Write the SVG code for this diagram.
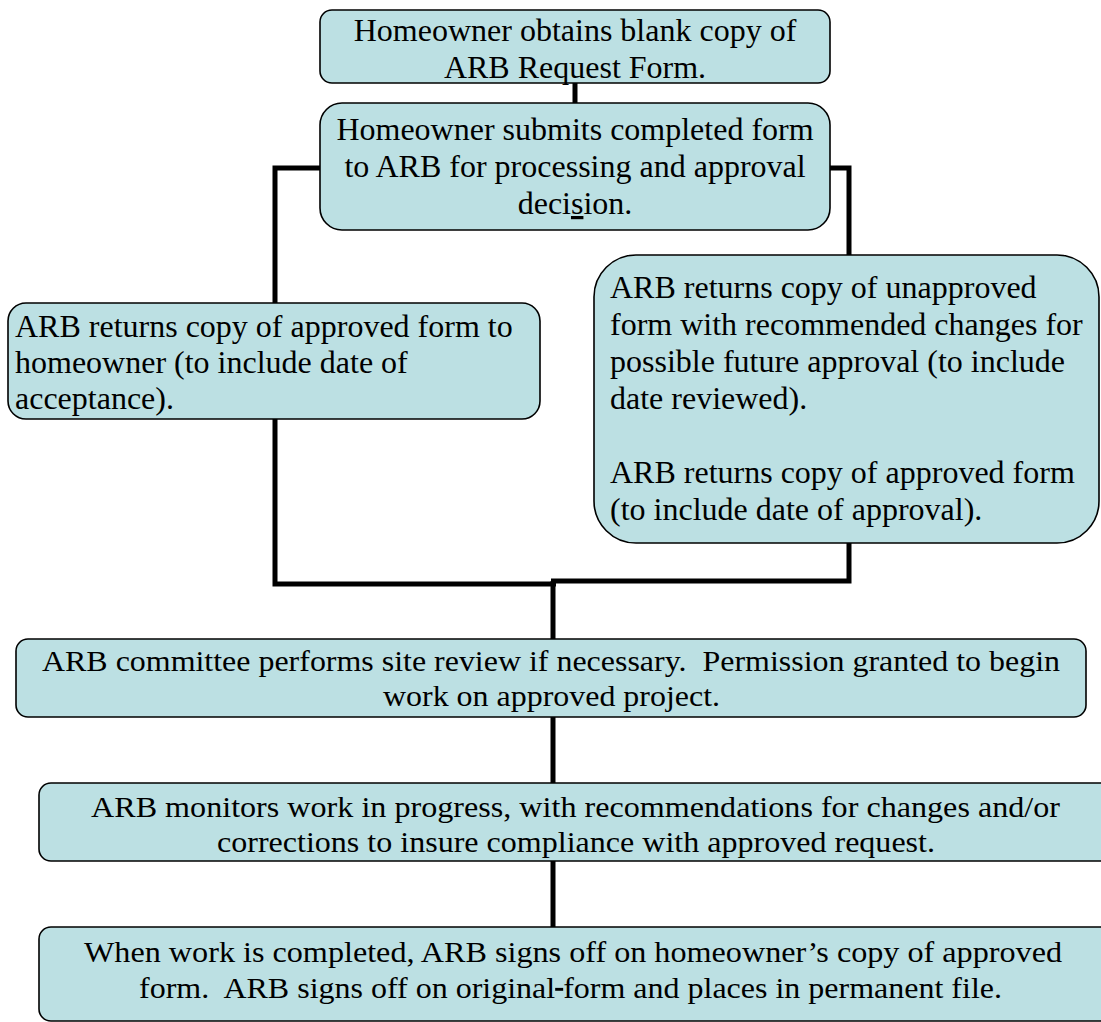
<svg xmlns="http://www.w3.org/2000/svg" width="1101" height="1022" viewBox="0 0 1101 1022">
<style>
.box{fill:#bce0e3;stroke:#000;stroke-width:1.6}
.conn{fill:none;stroke:#000;stroke-width:5;stroke-linejoin:miter;stroke-linecap:butt}
.t{font-family:"Liberation Serif","Times New Roman",serif;font-size:32px;fill:#000}
.c{text-anchor:middle}
.n{font-family:"Liberation Serif","Times New Roman",serif;font-size:29px;fill:#000}
</style>
<rect width="1101" height="1022" fill="#fff"/>
<g id="connectors">
<path class="conn" d="M575,83 V103"/>
<path class="conn" d="M320,168 H275 V303"/>
<path class="conn" d="M830,168 H849 V255"/>
<path class="conn" d="M275,419 V584 H556"/>
<path class="conn" d="M849,543 V581 H551"/>
<path class="conn" d="M553,581 V639"/>
<path class="conn" d="M553,717 V783"/>
<path class="conn" d="M553,861 V927"/>
</g>
<g id="node1">
<rect class="box" x="320" y="10" width="510" height="73" rx="12"/>
<text class="t c" x="575" y="41">Homeowner obtains blank copy of</text>
<text class="t c" x="575" y="78">ARB Request Form.</text>
</g>
<g id="node2">
<rect class="box" x="320" y="103" width="510" height="127" rx="22"/>
<text class="t c" x="575" y="140">Homeowner submits completed form</text>
<text class="t c" x="575" y="177">to ARB for processing and approval</text>
<text class="t c" x="575" y="214">deci<tspan text-decoration="underline">s</tspan>ion.</text>
</g>
<g id="node3">
<rect class="box" x="8" y="303" width="532" height="116" rx="18"/>
<text class="t" x="15" y="337">ARB returns copy of approved form to</text>
<text class="t" x="15" y="373">homeowner (to include date of</text>
<text class="t" x="15" y="409">acceptance).</text>
</g>
<g id="node4">
<rect class="box" x="594" y="255" width="505" height="288" rx="42"/>
<text class="t" x="610" y="298">ARB returns copy of unapproved</text>
<text class="t" x="610" y="335">form with recommended changes for</text>
<text class="t" x="610" y="372">possible future approval (to include</text>
<text class="t" x="610" y="409">date reviewed).</text>
<text class="t" x="610" y="483">ARB returns copy of approved form</text>
<text class="t" x="610" y="520">(to include date of approval).</text>
</g>
<g id="node5">
<rect class="box" x="16" y="639" width="1070" height="78" rx="12"/>
<text class="n" x="42" y="671" textLength="1018" lengthAdjust="spacingAndGlyphs" xml:space="preserve">ARB committee performs site review if necessary.  Permission granted to begin</text>
<text class="n" x="383" y="706" textLength="337" lengthAdjust="spacingAndGlyphs">work on approved project.</text>
</g>
<g id="node6">
<rect class="box" x="39" y="783" width="1080" height="78" rx="12"/>
<text class="n" x="91" y="817" textLength="969" lengthAdjust="spacingAndGlyphs">ARB monitors work in progress, with recommendations for changes and/or</text>
<text class="n" x="217" y="852" textLength="718" lengthAdjust="spacingAndGlyphs">corrections to insure compliance with approved request.</text>
</g>
<g id="node7">
<rect class="box" x="39" y="927" width="1080" height="94" rx="12"/>
<text class="n" x="84" y="962" textLength="978" lengthAdjust="spacingAndGlyphs">When work is completed, ARB signs off on homeowner’s copy of approved</text>
<text class="n" x="139" y="998" textLength="863" lengthAdjust="spacingAndGlyphs" xml:space="preserve">form.  ARB signs off on original<tspan text-decoration="line-through"> </tspan>form and places in permanent file.</text>
</g>
</svg>
